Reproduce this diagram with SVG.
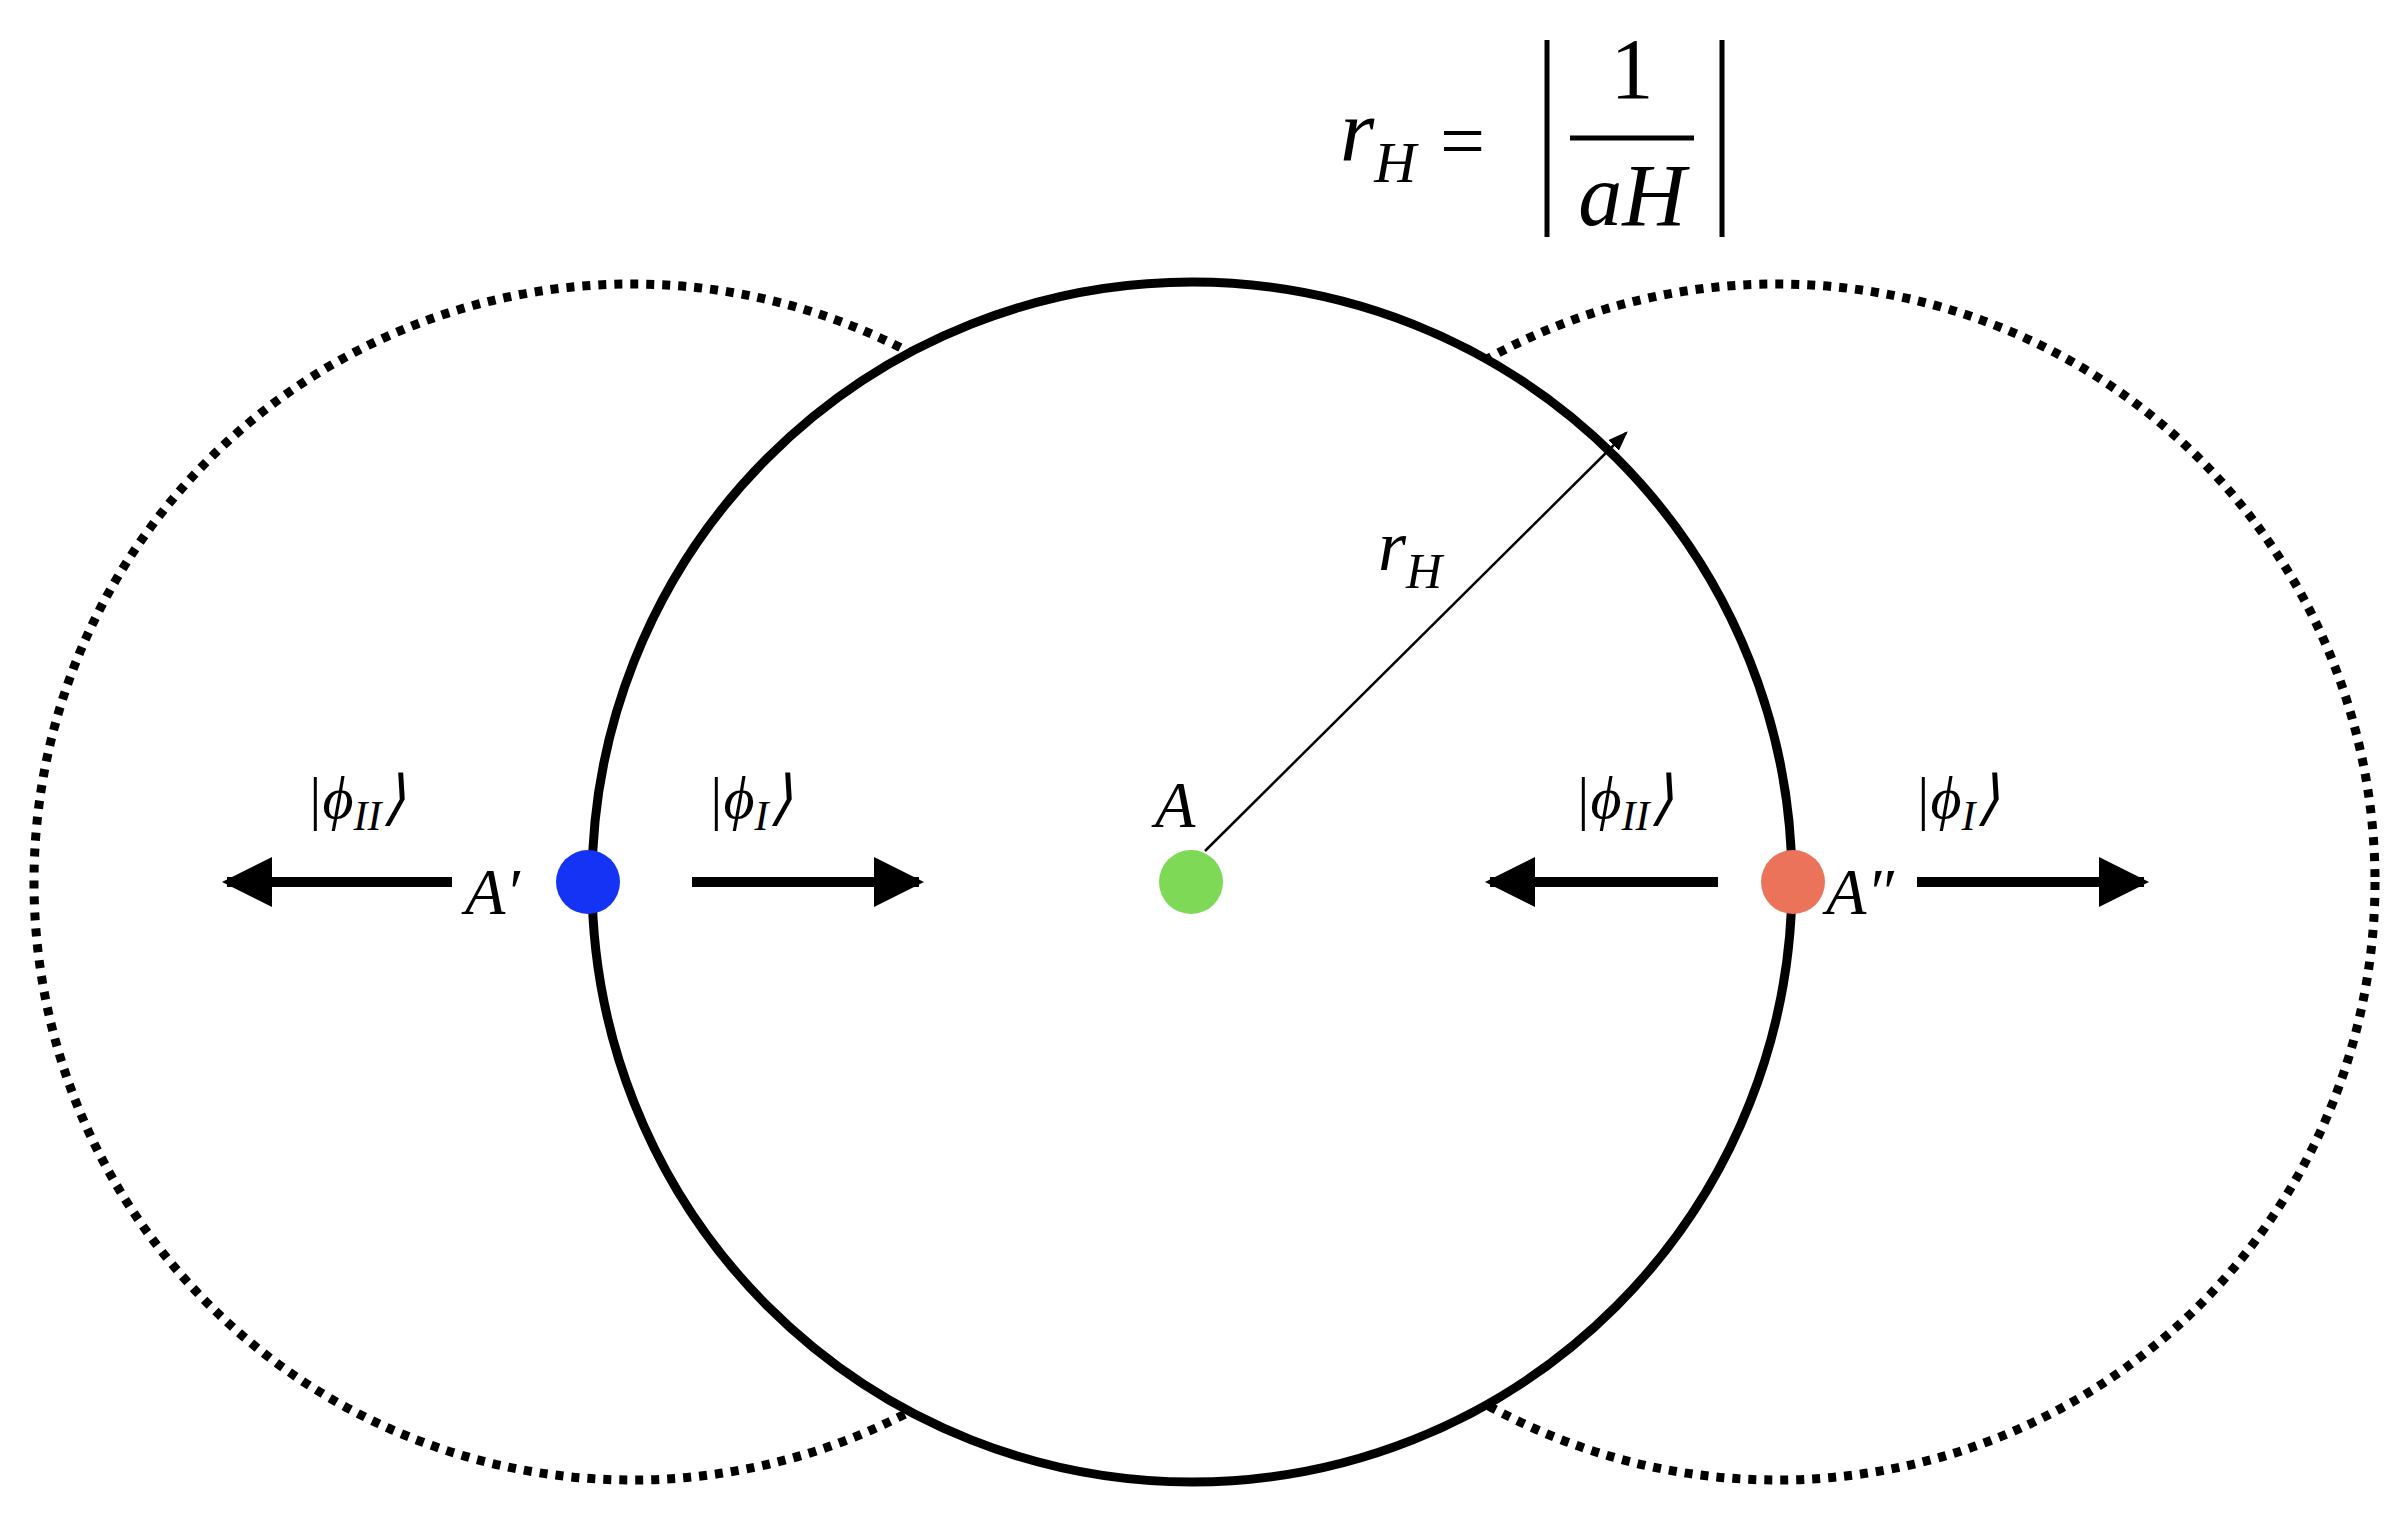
<svg xmlns="http://www.w3.org/2000/svg" width="2401" height="1528" viewBox="0 0 2401 1528">
<style>
.t{font-family:"Liberation Serif",serif;font-style:italic;fill:#000}
.u{font-family:"Liberation Serif",serif;fill:#000}
.arr{stroke:#000;stroke-width:10;fill:none}
.dot{fill:none;stroke:#000;stroke-width:9;stroke-dasharray:8 8}
</style>
<defs>
<marker id="ah" markerWidth="5" markerHeight="5" refX="4.5" refY="2.5" orient="auto" markerUnits="strokeWidth"><path d="M0,0 L5,2.5 L0,5 Z" fill="#000"/></marker>
<marker id="sh" markerWidth="8" markerHeight="6" refX="7" refY="3" orient="auto" markerUnits="strokeWidth"><path d="M0,0 L8,3 L0,6 Z" fill="#000"/></marker>
</defs>
<rect width="2401" height="1528" fill="#fff"/>
<g id="dotted-left"><circle class="dot" cx="632" cy="882" r="598"/></g>
<g id="dotted-right"><circle class="dot" cx="1777" cy="882" r="598"/></g>
<g id="horizon"><circle cx="1192" cy="882" r="600" fill="#fff" stroke="#000" stroke-width="9"/></g>
<g id="connectors">
<line class="arr" x1="452" y1="882" x2="227" y2="882" marker-end="url(#ah)"/>
<line class="arr" x1="692" y1="882" x2="919" y2="882" marker-end="url(#ah)"/>
<line class="arr" x1="1718" y1="882" x2="1490" y2="882" marker-end="url(#ah)"/>
<line class="arr" x1="1917" y1="882" x2="2144" y2="882" marker-end="url(#ah)"/>
<line x1="1205" y1="851" x2="1626" y2="433" stroke="#000" stroke-width="2.5" marker-end="url(#sh)"/>
</g>
<g id="nodeAp"><circle cx="588" cy="882" r="32" fill="#1533f5"/><text class="t" x="465" y="914" font-size="66">A′</text></g>
<g id="nodeA"><circle cx="1191" cy="882" r="32" fill="#7ed957"/><text class="t" x="1155" y="827" font-size="66">A</text></g>
<g id="nodeApp"><circle cx="1793" cy="882" r="32" fill="#ea735a"/><text class="t" x="1826" y="914" font-size="66">A″</text></g>
<g id="labels">
<text class="t" x="306" y="818" font-size="60">|ϕ<tspan font-size="42" dy="12">II</tspan><tspan dy="-12">⟩</tspan></text>
<text class="t" x="707" y="818" font-size="60">|ϕ<tspan font-size="42" dy="12">I</tspan><tspan dy="-12">⟩</tspan></text>
<text class="t" x="1574" y="818" font-size="60">|ϕ<tspan font-size="42" dy="12">II</tspan><tspan dy="-12">⟩</tspan></text>
<text class="t" x="1914" y="818" font-size="60">|ϕ<tspan font-size="42" dy="12">I</tspan><tspan dy="-12">⟩</tspan></text>
<text class="t" x="1378" y="570" font-size="72">r<tspan font-size="50" dy="18">H</tspan></text>
</g>
<g id="formula">
<text class="t" x="1340" y="160" font-size="88">r<tspan font-size="58" dy="22">H</tspan></text>
<text class="u" x="1440" y="168" font-size="80">=</text>
<line x1="1547" y1="40" x2="1547" y2="237" stroke="#000" stroke-width="5"/>
<line x1="1722" y1="40" x2="1722" y2="237" stroke="#000" stroke-width="5"/>
<text class="u" x="1632" y="98" font-size="86" text-anchor="middle">1</text>
<line x1="1570" y1="138" x2="1694" y2="138" stroke="#000" stroke-width="5"/>
<text class="t" x="1632" y="225" font-size="88" text-anchor="middle">aH</text>
</g>
</svg>
